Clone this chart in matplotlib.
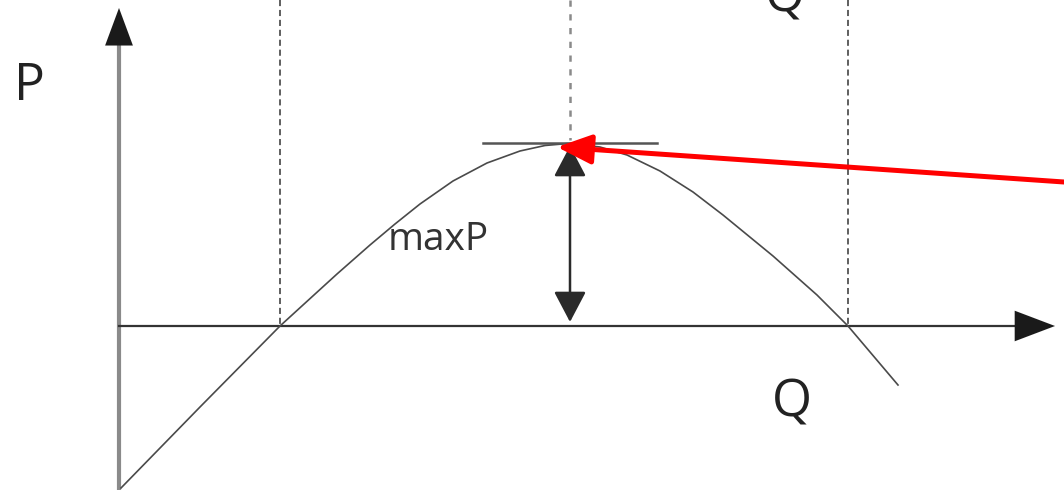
import matplotlib
matplotlib.use("Agg")
import matplotlib.pyplot as plt
from matplotlib.patches import Polygon

# ---- data (diagram units: horizontal = Q position, vertical = P position, image-like) ----
q_curve = [121, 200, 280, 303, 337, 370, 395, 420, 453, 487, 520, 545, 568,
           600, 627, 660, 693, 723, 773, 817, 848, 898]
p_curve = [488, 407, 326, 305, 274, 245, 224, 204, 181, 163, 151, 145.5, 143.5,
           147, 155, 171, 192, 215, 256, 295, 326, 385]

origin_q, origin_p = 119, 326
q_axis_end = 1055
p_axis_end = 8
p_axis_bottom = 490
q_zero_left, q_peak, q_zero_right = 280, 570, 848
p_peak = 143
tangent_q = [483, 657]
red_tail = (1064, 182)
red_tip = (557, 147)

labels = {"P": (29, 86), "Q_top": (785, -2), "Q_bottom": (792, 403), "maxP": (388, 240)}

fig = plt.figure(figsize=(10.64, 4.91), dpi=100)
ax = fig.add_axes([0, 0, 1, 1])
ax.set_xlim(0, 1064)
ax.set_ylim(491, 0)
ax.axis("off")

# axes
ax.plot([origin_q, origin_q], [p_axis_bottom, p_axis_end + 30], color="#8a8a8a", lw=3.0,
        solid_capstyle="butt")
ax.plot([origin_q, q_axis_end - 30], [origin_p, origin_p], color="#333333", lw=1.6)
ax.annotate("", xy=(origin_q, p_axis_end), xytext=(origin_q, p_axis_end + 40),
            arrowprops=dict(arrowstyle="-|>,head_length=1.35,head_width=0.5",
                            mutation_scale=20, color="#1a1a1a", lw=0.01,
                            shrinkA=0, shrinkB=0))
ax.annotate("", xy=(q_axis_end, origin_p), xytext=(q_axis_end - 45, origin_p),
            arrowprops=dict(arrowstyle="-|>,head_length=1.45,head_width=0.55",
                            mutation_scale=20, color="#1a1a1a", lw=0.01,
                            shrinkA=0, shrinkB=0))

# dashed guides
for qx in (q_zero_left, q_zero_right):
    ax.plot([qx, qx], [0, origin_p], color="#333333", lw=1.1, ls=(0, (4, 2.5)))
ax.plot([q_peak, q_peak], [0, p_peak - 3], color="#8a8a8a", lw=1.8, ls=(0, (2.5, 3)))

# curve
ax.plot(q_curve, p_curve, color="#4a4a4a", lw=1.2, solid_joinstyle="round")

# tangent line at peak
ax.plot(tangent_q, [p_peak, p_peak], color="#555555", lw=1.8)

# double arrow maxP
ax.annotate("", xy=(q_peak, 146), xytext=(q_peak, 322),
            arrowprops=dict(arrowstyle="<|-|>,head_length=0.95,head_width=0.5",
                            mutation_scale=20, color="#2a2a2a", lw=1.8,
                            shrinkA=0, shrinkB=0))

# red arrow
ax.annotate("", xy=red_tip, xytext=red_tail,
            arrowprops=dict(arrowstyle="-|>,head_length=1.05,head_width=0.45",
                            mutation_scale=20, color="#ff0000", lw=3.6,
                            shrinkA=0, shrinkB=0))

font = "Open Sans"
tc = "#222222"
ax.text(*labels["P"], "P", fontsize=37, family=font, color=tc, ha="center", va="center")
ax.text(*labels["Q_top"], "Q", fontsize=37, family=font, color=tc, ha="center", va="center")
ax.text(*labels["Q_bottom"], "Q", fontsize=37, family=font, color=tc, ha="center", va="center")
ax.text(*labels["maxP"], "maxP", fontsize=28, family=font, color="#333333", ha="left", va="center")

fig.savefig("out.png", dpi=100)
